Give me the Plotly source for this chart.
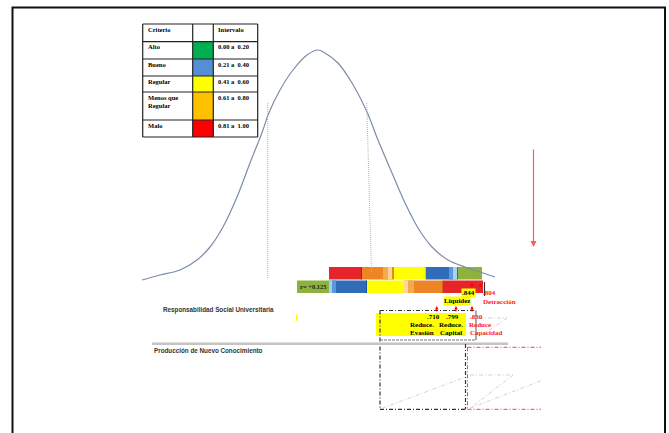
import plotly.graph_objects as go

W, H = 669, 433

# ---------------- data ----------------
criteria = ["Alto", "Bueno", "Regular", "Menos que<br>Regular", "Malo"]
intervals = ["0.00 a  0.20", "0.21 a  0.40", "0.41 a  0.60", "0.61 a  0.80", "0.81 a  1.00"]
crit_colors = ["#00b050", "#558ed5", "#ffff00", "#ffc000", "#ff0000"]

# bell curve, points (x, y in drawing units)
curve_x = [142, 160, 180, 197, 210, 223, 237, 250, 263, 268, 280, 293, 307, 318,
           325, 338, 352, 367, 378, 392, 405, 418, 432, 448, 465, 480, 495]
curve_y = [280, 275, 270, 260, 247, 227, 197, 163, 130, 115, 90, 70, 55, 50,
           53, 63, 83, 112, 140, 173, 203, 228, 247, 260, 267, 272, 277]

# colour scale bars (segment edges on the horizontal scale)
top_edges = [329, 362, 394, 426, 458, 482]
top_colors = ["#e5252a", "#ee8525", "#ffff00", "#2f6db8", "#8db33d"]
bot_edges = [297, 329, 367, 404, 443, 483]
bot_colors = ["#8db33d", "#2f6db8", "#ffff00", "#ee8525", "#e5252a"]

r_label = "r= +0.125"
top_vals = [".844", ".804"]
top_names = ["Liquidez", "Detracción"]
mid_vals = [".710", ".799", ".830"]
mid_l1 = ["Reduce.", "Reduce.", "Reduce"]
mid_l2 = ["Evasión", "Capital", "Capacidad"]

# ---------------- figure ----------------
fig = go.Figure()
shapes = []
ann = []

def line(x0, y0, x1, y1, color, width=1, dash="solid", layer="above"):
    shapes.append(dict(type="line", x0=x0, y0=y0, x1=x1, y1=y1, layer=layer,
                       line=dict(color=color, width=width, dash=dash)))

def rect(x0, y0, x1, y1, fill, lc=None, lw=0, layer="below"):
    shapes.append(dict(type="rect", x0=x0, y0=y0, x1=x1, y1=y1, layer=layer,
                       fillcolor=fill, line=dict(color=lc or fill, width=lw)))

def text(x, y, s, size=6.5, color="black", xanchor="left", family="Liberation Serif",
         bg=None):
    d = dict(x=x, y=y, text=s, showarrow=False, xanchor=xanchor, yanchor="middle",
             font=dict(size=size, color=color, family=family), align="left")
    if bg:
        d.update(bgcolor=bg, borderpad=0)
    ann.append(d)

def arrow(x, y, ax, ay, color="red", size=0.8, width=1):
    ann.append(dict(x=x, y=y, ax=ax, ay=ay, axref="x", ayref="y", xref="x", yref="y",
                    text="", showarrow=True, arrowhead=2, arrowsize=size,
                    arrowwidth=width, arrowcolor=color))

# outer frame
shapes.append(dict(type="rect", x0=12.5, y0=7.5, x1=665, y1=445, layer="above",
                   line=dict(color="#111", width=2)))

# legend table
row_y = [24, 41.7, 59, 76, 92, 120, 137]
col_x = [142.7, 192.7, 213.3, 257.7]
for i, c in enumerate(crit_colors):
    rect(col_x[1], row_y[i + 1], col_x[2], row_y[i + 2], c)
for yy in row_y:
    line(col_x[0], yy, col_x[3], yy, "#222", 1.2)
for xx in col_x:
    line(xx, row_y[0], xx, row_y[-1], "#222", 1.2)
text(146, 29, "<b>Criterio</b>", 6.5)
text(216, 29, "<b>Intervalo</b>", 6.5)
for i in range(5):
    yy = row_y[i + 1] + 5
    if i == 3:
        text(146, yy + 4, "<b>" + criteria[i] + "</b>", 6.5)
    else:
        text(146, yy, "<b>" + criteria[i] + "</b>", 6.5)
    text(216, yy, "<b>" + intervals[i] + "</b>", 6.5)

# bars
for i, c in enumerate(top_colors):
    rect(top_edges[i], 267, top_edges[i + 1], 279.5, c)
for i, c in enumerate(bot_colors):
    rect(bot_edges[i], 280.5, bot_edges[i + 1], 293, c)
# 3D-like highlights
hl = [(383, 388, "#f5a94a", 267, 279.5), (388, 392, "#fbd594", 267, 279.5),
      (449, 453, "#5a98dc", 267, 279.5), (453, 457, "#a6d3f6", 267, 279.5),
      (329, 332, "#9fd0f5", 280.5, 293), (332, 336, "#5a98dc", 280.5, 293),
      (404, 408, "#fcd89c", 280.5, 293), (408, 414, "#f5a94a", 280.5, 293),
      (361, 362, "#b81b1f", 267, 279.5), (425, 426, "#d8d800", 267, 279.5),
      (442, 443, "#c96a18", 280.5, 293), (366, 367, "#1f4f8f", 280.5, 293)]
for x0, x1, c, y0, y1 in hl:
    rect(x0, y0, x1, y1, c)
text(313.5, 286.8, "<b>" + r_label + "</b>", 6.5, "#222", "center")
line(484.5, 282, 484.5, 296, "#333", 1.2)
arrow(472, 283, 472, 288, size=0.7)
arrow(480.5, 283, 480.5, 288, size=0.7)

# bell curve + inflection dotted lines
fig.add_trace(go.Scatter(x=curve_x, y=curve_y, mode="lines", line_shape="spline",
                         line=dict(color="#7d8ca8", width=1.2), hoverinfo="skip"))
fig.add_trace(go.Scatter(x=[267.7, 267.7], y=[103, 278], mode="lines",
                         line=dict(color="#8fc0ea", width=1, dash="1px,1px"), hoverinfo="skip"))
fig.add_trace(go.Scatter(x=[366.7, 371.5], y=[103, 272], mode="lines",
                         line=dict(color="#8fc0ea", width=1, dash="1px,1px"), hoverinfo="skip"))

# long red arrow
arrow(533.5, 247, 533.5, 148, color="#ff5a5a", size=1, width=1.2)

# labels near bars
text(468, 293, "<b>" + top_vals[0] + "</b>", 7, "black", "center", bg="#ffff00")
text(456.5, 301, "<b>" + top_names[0] + "</b>", 7, "black", "center", bg="#ffff00")
text(480.5, 293, "<b>" + top_vals[1] + "</b>", 7, "#ff2020")
text(480.5, 301.5, "<b>" + top_names[1] + "</b>", 7, "#ff2020")

# upper dash-dot box + highlighted block
rect(376, 313, 466, 336, "#ffff00")
dd = "4px,2px,1px,2px"
line(380, 310.5, 476, 310.5, "#333", 1, dd)
line(380, 310.5, 380, 409, "#333", 1.2, dd)
line(476, 310.5, 476, 340, "#555", 1)
line(380, 340, 476, 340, "#777", 1, "3px,1px")
line(470, 318, 507, 318, "#cfcfcf", 1, dd)
line(507, 318, 477, 338, "#cfcfcf", 1, dd)
arrow(436.7, 306, 436.7, 313, size=0.7)
arrow(456, 306, 456, 313, size=0.7)
arrow(472, 306, 472, 313, size=0.7)
text(433, 317, "<b>" + mid_vals[0] + "</b>", 7, "black", "center")
text(452.5, 317, "<b>" + mid_vals[1] + "</b>", 7, "black", "center")
text(467.5, 317, "<b>" + mid_vals[2] + "</b>", 7, "#ff2020")
text(422, 325, "<b>" + mid_l1[0] + "</b>", 7, "black", "center")
text(451, 325, "<b>" + mid_l1[1] + "</b>", 7, "black", "center")
text(466.5, 325, "<b>" + mid_l1[2] + "</b>", 7, "#ff2020")
text(421.5, 333, "<b>" + mid_l2[0] + "</b>", 7, "black", "center")
text(450.5, 333, "<b>" + mid_l2[1] + "</b>", 7, "black", "center")
text(467.5, 333, "<b>" + mid_l2[2] + "</b>", 7, "#ff2020")

# section titles
text(160.5, 310, "<b>Responsabilidad Social Universitaria</b>", 6.3, "#333", family="Liberation Sans")
rect(296, 314.5, 297.5, 321, "#ffff00")
line(152, 343.7, 508, 343.7, "#c4c4c4", 2.5)
text(151.5, 350.5, "<b>Producción de Nuevo Conocimiento</b>", 6.3, "#333", family="Liberation Sans")

# lower boxes
line(380, 409.3, 465.5, 409.3, "#333", 1.2, dd)
line(465.5, 344, 465.5, 409.3, "#333", 1.2, dd)
line(467.5, 347.3, 467.5, 409.3, "#ff4040", 1, dd)
line(467.5, 347.3, 541, 347.3, "#ff4040", 1, dd)
line(467.5, 409.3, 541, 409.3, "#ff4040", 1, dd)
line(382, 408.3, 465, 377.3, "#d3d3d3", 1, dd)
line(470, 375, 513, 375, "#d3d3d3", 1, dd)
line(513, 375, 470, 408.3, "#d3d3d3", 1, dd)
line(470, 408.3, 541, 380.7, "#d3d3d3", 1, dd)

fig.update_layout(
    width=W, height=H, margin=dict(l=0, r=0, t=0, b=0),
    paper_bgcolor="white", plot_bgcolor="white", showlegend=False,
    xaxis=dict(range=[0, W], visible=False, fixedrange=True),
    yaxis=dict(range=[H, 0], visible=False, fixedrange=True),
    shapes=shapes, annotations=ann,
)
fig.write_html("out.html", config={"displayModeBar": False},
               post_script="document.body.style.margin='0';document.body.style.overflow='hidden';")
